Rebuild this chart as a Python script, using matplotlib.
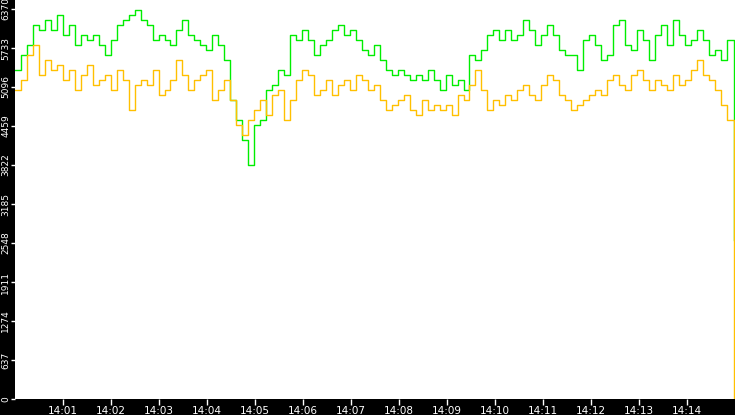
import numpy as np
import matplotlib
matplotlib.use("Agg")
import matplotlib.pyplot as plt

green = [5374,5619,5782,6108,6027,6190,6027,6271,5945,6108,5782,5945,5864,5945,5782,5619,5864,6108,6190,6271,
         6353,6190,6108,5864,5945,5864,5782,6027,6190,5945,5864,5782,5700,5945,5782,5537,4884,4557,4230,3822,
         4475,4557,5047,5129,5374,5292,5945,5864,6027,5864,5619,5782,5864,6027,6108,5945,6027,5864,5700,5619,
         5782,5537,5374,5292,5374,5292,5210,5292,5210,5374,5210,5047,5292,5129,5210,5047,5619,5537,5700,5945,
         6027,5864,6027,5864,5945,6190,6027,5782,5945,6108,5945,5700,5619,5619,5374,5864,5945,5782,5537,5619,
         6108,6190,5782,5700,6027,5864,5537,5945,6108,5782,6190,5945,5782,5864,6027,5864,5619,5700,5537,5864,
         2597]
yellow = [5047,5210,5619,5782,5292,5537,5374,5456,5210,5374,5047,5292,5456,5129,5210,5292,5047,5374,5210,4720,
          5129,5210,5129,5374,4966,5047,5210,5537,5292,5047,5210,5292,5374,4884,5047,5210,4884,4475,4312,4557,
          4720,4884,4639,4966,5047,4557,4884,5210,5374,5292,4966,5047,5210,4966,5129,5210,5047,5292,5210,5047,
          5129,4884,4720,4802,4884,4966,4720,4639,4884,4720,4802,4720,4802,4639,4966,4884,5129,5374,5047,4720,
          4884,4802,4966,4884,5047,5129,4966,4884,5129,5292,5210,4966,4884,4720,4802,4884,4966,5047,4966,5210,
          5292,5129,5047,5292,5374,5210,5047,5210,5129,5047,5292,5129,5210,5374,5537,5292,5210,5047,4802,4557,
          0]
yticks = [0, 637, 1274, 1911, 2548, 3185, 3822, 4459, 5096, 5733, 6370]
xtick_labels = ["14:01","14:02","14:03","14:04","14:05","14:06","14:07","14:08","14:09","14:10","14:11","14:12","14:13","14:14"]

fig = plt.figure(figsize=(7.35, 4.15), dpi=100, facecolor="black")
ax = fig.add_axes([15/735, 16/415, 720/735, 399/415])
ax.set_facecolor("white")

def xs(n):
    x = np.arange(n - 1) * (14.95 / (n - 1))
    return np.append(x, 14.97)

ax.step(xs(len(green)), green, where="post", color="#00ee00", lw=1)
ax.step(xs(len(yellow)), yellow, where="post", color="#ffc000", lw=1)

ax.set_xlim(0, 15)
ax.set_ylim(0, 6517)
ax.set_yticks(yticks)
ax.set_yticklabels([str(v) for v in yticks], rotation=90, va="center", color="white", fontsize=6.5)
ax.set_xticks(range(1, 15))
ax.set_xticklabels(xtick_labels, color="white", fontsize=7.5)
ax.tick_params(axis="x", colors="white", length=4, width=1, pad=1)
ax.tick_params(axis="y", colors="white", length=3, width=1, pad=0.5)
for s in ax.spines.values():
    s.set_visible(False)
fig.savefig("out.png", dpi=100, facecolor="black")
